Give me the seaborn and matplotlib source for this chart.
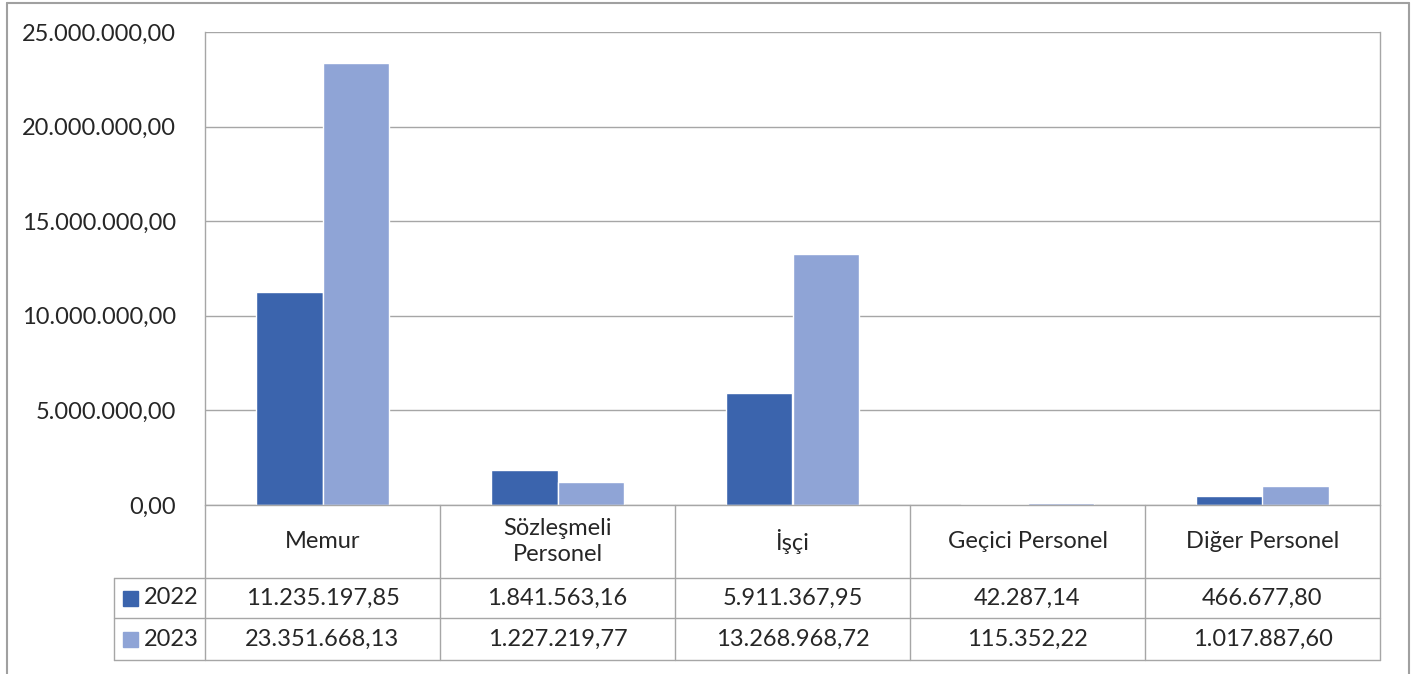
import pandas as pd
import seaborn as sns
import matplotlib.pyplot as plt
from matplotlib.lines import Line2D
from matplotlib.patches import Rectangle

categories = ["Memur", "Sözleşmeli\nPersonel", "İşçi", "Geçici Personel", "Diğer Personel"]
years = ["2022", "2023"]
values_2022 = [11235197.85, 1841563.16, 5911367.95, 42287.14, 466677.80]
values_2023 = [23351668.13, 1227219.77, 13268968.72, 115352.22, 1017887.60]
y_ticks = [0, 5000000, 10000000, 15000000, 20000000, 25000000]

colors = ["#3B64AD", "#8FA4D6"]
grid_color = "#A6A6A6"
fs = 17


def tr_format(v):
    s = f"{v:,.2f}"
    return s.replace(",", "X").replace(".", ",").replace("X", ".")


df = pd.DataFrame({
    "category": categories * 2,
    "year": [years[0]] * len(categories) + [years[1]] * len(categories),
    "value": values_2022 + values_2023,
})

sns.set_style("white")
plt.rcParams["font.family"] = ["Lato", "DejaVu Sans"]

W, H = 1422, 674
fig = plt.figure(figsize=(W / 100, H / 100), dpi=100)


def fx(px):
    return px / W


def fy(py):
    return 1 - py / H


left, right, top, bottom = 205, 1380, 32, 505
ax = fig.add_axes([fx(left), fy(bottom), fx(right - left), fy(top) - fy(bottom)])

sns.barplot(data=df, x="category", y="value", hue="year", palette=colors,
            width=0.566, gap=0, saturation=1, ax=ax, legend=False, zorder=3)

ax.set_xlim(-0.5, len(categories) - 0.5)
ax.set_ylim(0, y_ticks[-1])
ax.set_yticks(y_ticks)
ax.set_yticklabels([tr_format(t) for t in y_ticks], fontsize=fs)
ax.tick_params(axis="y", length=0, pad=21)
ax.set_xticks([])
ax.set_xlabel("")
ax.set_ylabel("")
ax.yaxis.grid(True, color=grid_color, linewidth=1, zorder=0)
for side in ["top", "bottom"]:
    ax.spines[side].set_visible(False)
for side in ["left", "right"]:
    ax.spines[side].set_color(grid_color)
    ax.spines[side].set_linewidth(1)

# data table below the plot
rows_y = [505, 578, 618, 660]
col_x = [left + i * (right - left) / len(categories) for i in range(len(categories) + 1)]
leg_left = 114
lw = 1


def hline(x0, x1, y):
    fig.add_artist(Line2D([fx(x0), fx(x1)], [fy(y), fy(y)], color=grid_color, lw=lw))


def vline(x, y0, y1):
    fig.add_artist(Line2D([fx(x), fx(x)], [fy(y0), fy(y1)], color=grid_color, lw=lw))


hline(left, right, rows_y[0])
for y in rows_y[1:]:
    hline(leg_left, right, y)
vline(leg_left, rows_y[1], rows_y[3])
for x in col_x:
    vline(x, rows_y[0], rows_y[3])

for i, cat in enumerate(categories):
    cx = (col_x[i] + col_x[i + 1]) / 2
    fig.text(fx(cx), fy((rows_y[0] + rows_y[1]) / 2), cat, ha="center", va="center",
             fontsize=fs, linespacing=1.3)
    for r, vals in enumerate([values_2022, values_2023]):
        fig.text(fx(cx), fy((rows_y[r + 1] + rows_y[r + 2]) / 2), tr_format(vals[i]),
                 ha="center", va="center", fontsize=fs)

for r, yr in enumerate(years):
    cy = (rows_y[r + 1] + rows_y[r + 2]) / 2
    fig.add_artist(Rectangle((fx(123), fy(cy + 7.5)), fx(15), fy(cy - 7.5) - fy(cy + 7.5),
                             color=colors[r], transform=fig.transFigure))
    fig.text(fx(144), fy(cy), yr, ha="left", va="center", fontsize=fs)

# outer chart border
border = "#A0A0A0"
fig.add_artist(Line2D([fx(7), fx(1409)], [fy(3), fy(3)], color=border, lw=1.5))
fig.add_artist(Line2D([fx(7), fx(7)], [fy(3), 0], color=border, lw=1.5))
fig.add_artist(Line2D([fx(1409), fx(1409)], [fy(3), 0], color=border, lw=1.5))

plt.savefig("out.png", dpi=100)
plt.close()
